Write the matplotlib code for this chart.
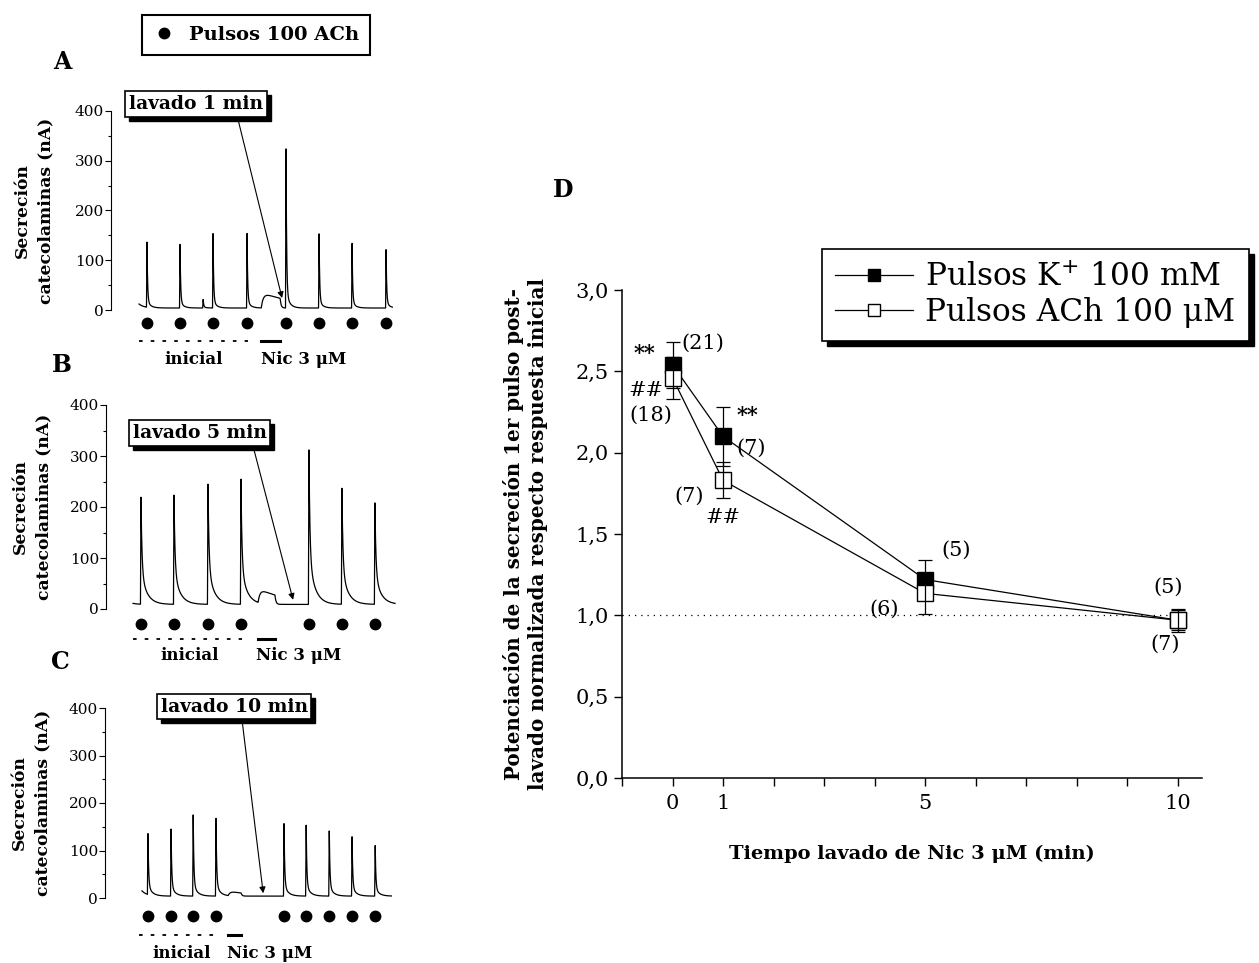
import numpy as np
import matplotlib.pyplot as plt
import matplotlib.transforms as mtransforms
from matplotlib.lines import Line2D
from matplotlib.patches import Rectangle
from matplotlib.ticker import FuncFormatter, MultipleLocator, FixedLocator

plt.rcParams['font.family'] = 'DejaVu Serif'

W, H = 1259, 963

# ---- panels A-C: secretion traces (time in pulse intervals, secretion in nA) ----
pulses_a = [0.24, 1.24, 2.24, 3.27, 4.45, 5.45, 6.45, 7.48]
peaks_a = [137, 138, 155, 155, 330, 160, 135, 122]
pulses_b = [0.24, 1.24, 2.27, 3.27, 5.33, 6.33, 7.33]
peaks_b = [220, 228, 253, 255, 320, 240, 210]
pulses_c = [0.18, 0.88, 1.55, 2.24, 4.30, 4.97, 5.67, 6.36, 7.06]
peaks_c = [138, 147, 175, 175, 162, 160, 145, 132, 115]
spont_a = ([1.94], [22])            # small spontaneous release in A
nic_a = (3.70, 4.27, 30)            # start, end, plateau (nA)
nic_b = (3.79, 4.30, 28)
nic_c = (2.61, 3.00, 10)
lavado_labels = ['lavado 1 min', 'lavado 5 min', 'lavado 10 min']

# ---- panel D: potentiation after washout ----
wash_min = [0, 1, 5, 10]
k_mean = [2.54, 2.10, 1.22, 0.97]
k_sem = [0.14, 0.18, 0.12, 0.06]
ach_mean = [2.46, 1.83, 1.135, 0.97]
ach_sem = [0.13, 0.11, 0.125, 0.07]
note_text = ['**', '(21)', '##', '(18)', '**', '(7)', '(7)', '##', '(5)', '(6)', '(5)', '(7)']
note_x = [-0.56, 0.59, -0.53, -0.43, 1.48, 1.55, 0.33, 1.0, 5.61, 4.19, 9.81, 9.76]
note_y = [2.61, 2.67, 2.38, 2.23, 2.23, 2.03, 1.73, 1.60, 1.40, 1.04, 1.17, 0.82]


def secretion(t, pulses, peaks, frac, tf, ts, base, start, nic):
    y = base + (start - base) * np.exp(-t / 0.15)
    for t0, a in zip(pulses, peaks):
        dt = t - t0
        up = np.clip((dt + 0.015) / 0.015, 0, 1)
        d = np.clip(dt, 0, None)
        y = y + (a - base) * up * (frac * np.exp(-d / tf) + (1 - frac) * np.exp(-d / ts))
    n0, n1, h = nic
    rise = h * (1 - np.exp(-(t - n0) / 0.06)) * (1 - 0.35 * (t - n0) / (n1 - n0))
    end_val = h * (1 - np.exp(-(n1 - n0) / 0.06)) * 0.65
    bump = np.where(t < n0, 0, np.where(t <= n1, rise, end_val * np.exp(-(t - n1) / 0.03)))
    return y + bump


def px_axes(l, t, r, b):
    return fig.add_axes([l / W, 1 - b / H, (r - l) / W, (b - t) / H])


def below(ax, px):
    return ax.get_xaxis_transform() + mtransforms.ScaledTranslation(0, -px / 100, fig.dpi_scale_trans)


def trace_panel(ax, t, y, pulses, nic, ini, txt_x, offs, xlim, label_x):
    ax.plot(t, y, color='k', lw=0.9, clip_on=False)
    ax.set_xlim(*xlim)
    ax.set_ylim(0, 400)
    for s in ['top', 'right', 'bottom']:
        ax.spines[s].set_visible(False)
    ax.spines['left'].set_linewidth(0.8)
    ax.set_xticks([])
    ax.yaxis.set_major_locator(MultipleLocator(100))
    ax.yaxis.set_minor_locator(MultipleLocator(50))
    ax.tick_params(axis='y', which='major', direction='out', length=4, width=0.8, labelsize=11, pad=1)
    ax.tick_params(axis='y', which='minor', direction='out', length=2.5, width=0.8)
    ax.patch.set_visible(False)
    ax.plot(pulses, [0] * len(pulses), 'o', color='k', ms=7.5, ls='none',
            transform=below(ax, offs[0]), clip_on=False)
    ax.plot(ini, [0, 0], color='k', lw=1.3, ls=(0, (2, 4.5)),
            transform=below(ax, offs[1]), clip_on=False)
    ax.plot(nic[:2], [0, 0], color='k', lw=2.2, transform=below(ax, offs[1]), clip_on=False)
    ax.text(txt_x[0], 0, 'inicial', transform=below(ax, offs[2]), ha='center', va='center',
            fontsize=12, fontweight='bold')
    ax.text(txt_x[1], 0, 'Nic 3 μM', transform=below(ax, offs[2]), ha='center', va='center',
            fontsize=12, fontweight='bold')
    ax.text(label_x, 0.5, 'Secreción\ncatecolaminas (nA)', transform=ax.transAxes,
            rotation=90, ha='center', va='center', fontsize=12.3, fontweight='bold',
            linespacing=1.5)


def lavado_box(ax, text, xy_text, xy_arrow, relx):
    return ax.annotate(text, xy=xy_arrow, xytext=xy_text, ha='center', va='center', fontsize=13.5,
                       fontweight='bold', annotation_clip=False, zorder=6,
                       bbox=dict(boxstyle='square,pad=0.2', fc='w', ec='k', lw=1.2),
                       arrowprops=dict(arrowstyle='-|>', color='k', lw=0.8, mutation_scale=9,
                                       relpos=(relx, 0), shrinkA=0, shrinkB=0))


fig = plt.figure(figsize=(W / 100, H / 100), dpi=100)

# A
ax_a = px_axes(111, 111, 395, 310)
t_a = np.linspace(0, 7.67, 4000)
y_a = secretion(t_a, pulses_a + spont_a[0], peaks_a + spont_a[1], 0.9, 0.018, 0.10, 4, 12, nic_a)
trace_panel(ax_a, t_a, y_a, pulses_a, nic_a, (0, 3.3), (1.64, 4.97), (13, 31, 50), (-0.85, 7.75), -0.27)
ann_a = lavado_box(ax_a, lavado_labels[0], (1.73, 414), (4.33, 24), 0.8)

# B
ax_b = px_axes(106, 405, 397, 609)
t_b = np.linspace(0, 7.94, 4000)
y_b = secretion(t_b, pulses_b, peaks_b, 0.7, 0.03, 0.18, 9, 11, nic_b)
trace_panel(ax_b, t_b, y_b, pulses_b, nic_b, (0, 3.3), (1.70, 5.03), (15, 30, 47), (-0.82, 8.0), -0.255)
ann_b = lavado_box(ax_b, lavado_labels[1], (2.02, 345), (4.85, 18), 0.89)

# C
ax_c = px_axes(105, 708, 393, 898)
t_c = np.linspace(0, 7.55, 4000)
y_c = secretion(t_c, pulses_c, peaks_c, 0.85, 0.02, 0.12, 4, 15, nic_c)
trace_panel(ax_c, t_c, y_c, pulses_c, nic_c, (-0.09, 2.3), (1.21, 3.85), (18, 37, 55), (-1.12, 7.6), -0.257)
ann_c = lavado_box(ax_c, lavado_labels[2], (2.79, 403), (3.67, 10), 0.55)

for lab, (x, y) in zip('ABC', [(62, 62), (62, 365), (60, 662)]):
    fig.text(x / W, 1 - y / H, lab, ha='center', va='center', fontsize=17, fontweight='bold')

fig.legend(handles=[Line2D([], [], marker='o', color='k', ls='none', ms=7.5)],
           labels=['Pulsos 100 ACh'], loc='center', bbox_to_anchor=(256 / W, 1 - 35 / H),
           prop=dict(size=14, weight='bold'), fancybox=False, edgecolor='k',
           framealpha=1, borderpad=0.55, handletextpad=0.7, handlelength=1.2, borderaxespad=0)
fig.legends[0].get_frame().set_linewidth(1.5)

# D
ax_d = px_axes(622, 290, 1202, 778)
ax_d.patch.set_visible(False)
ax_d.axhline(1.0, xmin=0, xmax=(10 + 1) / 11.48, color='k', lw=0.9, ls=(0, (1, 4)))
ax_d.plot(wash_min, k_mean, color='k', lw=0.9, marker='s', ms=11, mfc='k', mec='k', zorder=3,
          label='Pulsos K$^{+}$ 100 mM')
ax_d.errorbar(wash_min, k_mean, yerr=k_sem, fmt='none', ecolor='k', elinewidth=0.9,
              capsize=5, capthick=0.9, zorder=4)
ax_d.plot(wash_min, ach_mean, color='k', lw=0.9, marker='s', ms=11, mfc='w', mec='k', mew=1,
          zorder=5, label='Pulsos ACh 100 μM')
ax_d.errorbar(wash_min, ach_mean, yerr=ach_sem, fmt='none', ecolor='k', elinewidth=0.9,
              capsize=5, capthick=0.9, zorder=6)
ax_d.set_xlim(-1, 10.48)
ax_d.set_ylim(0, 3.0)
for s in ['top', 'right']:
    ax_d.spines[s].set_visible(False)
for s in ['left', 'bottom']:
    ax_d.spines[s].set_linewidth(1.1)
ax_d.xaxis.set_major_locator(FixedLocator(wash_min))
ax_d.xaxis.set_minor_locator(FixedLocator([-1, 2, 3, 4, 6, 7, 8, 9]))
ax_d.yaxis.set_major_locator(MultipleLocator(0.5))
ax_d.yaxis.set_major_formatter(FuncFormatter(lambda v, p: f'{v:.1f}'.replace('.', ',')))
ax_d.tick_params(which='both', direction='out', length=5.5, width=1, labelsize=15)
ax_d.tick_params(axis='y', pad=4)
ax_d.tick_params(axis='x', pad=6)
for txt, x, y in zip(note_text, note_x, note_y):
    bold = 'bold' if txt == '**' else 'normal'
    ax_d.text(x, y, txt, ha='center', va='center', fontsize=15, fontweight=bold)
ax_d.set_xlabel('Tiempo lavado de Nic 3 μM (min)', fontsize=14, fontweight='bold', labelpad=23)
ax_d.set_ylabel('Potenciación de la secreción 1er pulso post-\nlavado normalizada respecto respuesta inicial',
                fontsize=14.3, fontweight='bold', linespacing=1.25, labelpad=20)
fig.text(563 / W, 1 - 190 / H, 'D', ha='center', va='center', fontsize=17, fontweight='bold')

leg = ax_d.legend(loc='center', bbox_to_anchor=(1035 / W, 1 - 295 / H),
                  bbox_transform=fig.transFigure, prop=dict(size=22.5), fancybox=False,
                  edgecolor='k', framealpha=1, handlelength=2.5, handletextpad=0.4,
                  borderpad=0.42, labelspacing=0.15, markerscale=0.8)
leg.get_frame().set_linewidth(1.2)
leg.set_zorder(10)

# drop shadows behind the framed boxes
fig.canvas.draw()
renderer = fig.canvas.get_renderer()
inv = fig.transFigure.inverted()
bb = leg.get_window_extent().transformed(inv)
ax_d.add_patch(Rectangle((bb.x0 + 5 / W, bb.y0 - 5 / H), bb.width, bb.height,
                         transform=fig.transFigure, fc='k', ec='k', zorder=9, clip_on=False))
for ax, ann in [(ax_a, ann_a), (ax_b, ann_b), (ax_c, ann_c)]:
    bb = ann.get_bbox_patch().get_window_extent(renderer).transformed(inv)
    ax.add_patch(Rectangle((bb.x0 + 4 / W, bb.y0 - 4 / H), bb.width, bb.height,
                           transform=fig.transFigure, fc='k', ec='k', zorder=5, clip_on=False))

fig.savefig('out.png', dpi=100)
